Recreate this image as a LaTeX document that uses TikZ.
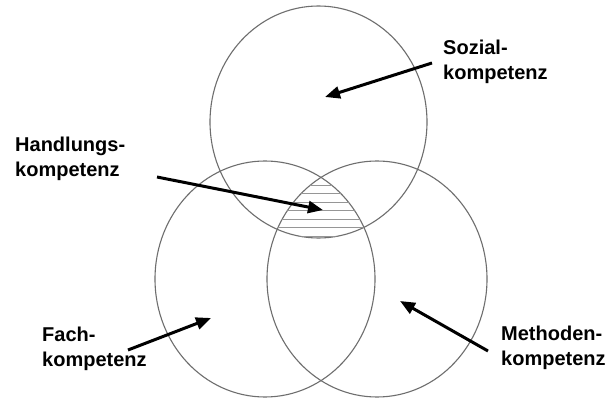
\documentclass[tikz,border=0pt]{standalone}
\usepackage{fontspec}
\setmainfont{Liberation Sans}
\usetikzlibrary{arrows.meta,shapes.geometric}
\definecolor{ringgray}{RGB}{110,110,110}
\definecolor{hatchgray}{RGB}{150,150,150}
\begin{document}
\begin{tikzpicture}[x=1pt,y=-1pt,
  ring/.style 2 args={ellipse,draw=ringgray,line width=1.1pt,minimum width=#1,minimum height=#2,inner sep=0pt},
  lbl/.style={anchor=north west,inner sep=0pt,align=left,
    font=\fontsize{20}{24.5}\selectfont\bfseries},
  pointer/.style={line width=3pt,-{Triangle[length=15pt,width=12pt]}},
  hatch/.style={draw=hatchgray,line width=0.8pt}]
\useasboundingbox (0,0) rectangle (611,398);
\fill[white] (0,0) rectangle (611,398);
% circles
\node[ring={217pt}{232pt}] (top) at (318.5,122) {};
\node[ring={220pt}{236pt}] (left) at (265,279) {};
\node[ring={220pt}{236pt}] (right) at (377,279) {};
% hatching of the common region
\begin{scope}
  \clip (318.5,122) ellipse[x radius=108.5pt,y radius=116pt];
  \clip (265,279) ellipse[x radius=110pt,y radius=118pt];
  \clip (377,279) ellipse[x radius=110pt,y radius=118pt];
  \foreach \yy in {185,193.5,202,210.5,219,227.5,236}
    \draw[hatch] (250,\yy) -- (400,\yy);
\end{scope}
% labels
\node[lbl] (soz) at (443,40) {Sozial-\\kompetenz};
\node[lbl] (hand) at (15,137) {Handlungs-\\kompetenz};
\node[lbl] (fach) at (42,327) {Fach-\\kompetenz};
\node[lbl] (meth) at (501,326) {Methoden-\\kompetenz};
% arrow ends
\coordinate (sozS) at (432,63);
\coordinate (sozT) at (325,97);
\coordinate (handS) at (157,177);
\coordinate (handT) at (323,210);
\coordinate (fachS) at (128,350);
\coordinate (fachT) at (211,318);
\coordinate (methS) at (488,351);
\coordinate (methT) at (400,301);
\draw[pointer] (sozS) -- (sozT);
\draw[pointer] (handS) -- (handT);
\draw[pointer] (fachS) -- (fachT);
\draw[pointer] (methS) -- (methT);
\end{tikzpicture}
\end{document}
